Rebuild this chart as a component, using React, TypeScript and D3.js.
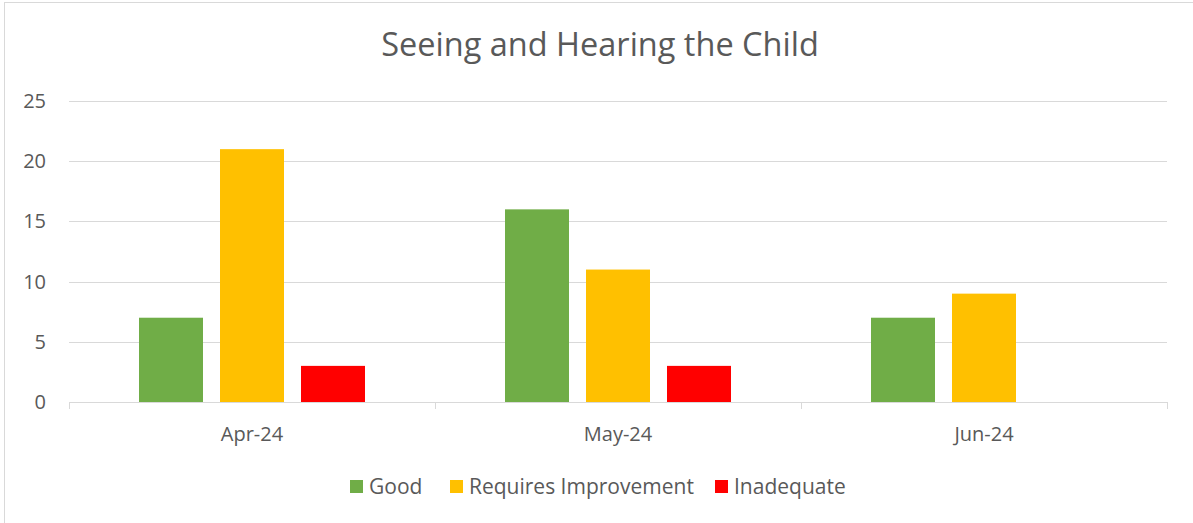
import React, { useRef, useEffect } from "react";
import * as d3 from "d3";

const categories = ["Apr-24", "May-24", "Jun-24"];
const seriesNames = ["Good", "Requires Improvement", "Inadequate"];
const seriesColors = ["#70ad47", "#ffc000", "#ff0000"];
const good = [7, 16, 7];
const requiresImprovement = [21, 11, 9];
const inadequate = [3, 3, 0];
const yTicks = [0, 5, 10, 15, 20, 25];

const W = 1193;
const H = 523;
const FONT = "'Open Sans', 'Noto Sans', sans-serif";

const App = () => {
  const svgRef = useRef<SVGSVGElement>(null);

  useEffect(() => {
    document.body.style.margin = "0";
    const svg = d3.select(svgRef.current);
    svg.selectAll("*").remove();

    const values = [good, requiresImprovement, inadequate];
    const left = 69;
    const right = 1167;
    const top = 101;
    const bottom = 402;

    // chart border
    svg
      .append("rect")
      .attr("x", 4.5)
      .attr("y", 2.5)
      .attr("width", W)
      .attr("height", H)
      .attr("fill", "#fff")
      .attr("stroke", "#d9d9d9");

    const x0 = d3.scaleBand().domain(categories).range([left, right]).padding(0);
    const y = d3.scaleLinear().domain([0, 25]).range([bottom, top]);

    const barW = 64;
    const gap = 17;
    const groupW = barW * 3 + gap * 2;
    const x1 = d3
      .scaleBand()
      .domain(seriesNames)
      .range([0, groupW])
      .paddingInner(gap / (barW + gap))
      .paddingOuter(0);

    // gridlines
    svg
      .append("g")
      .selectAll("line")
      .data(yTicks.filter((t) => t > 0))
      .enter()
      .append("line")
      .attr("x1", left)
      .attr("x2", right)
      .attr("y1", (d) => Math.round(y(d)) + 0.5)
      .attr("y2", (d) => Math.round(y(d)) + 0.5)
      .attr("stroke", "#d9d9d9")
      .attr("stroke-width", 1);

    // y labels
    svg
      .append("g")
      .selectAll("text")
      .data(yTicks)
      .enter()
      .append("text")
      .attr("x", 46)
      .attr("y", (d) => y(d))
      .attr("dy", "0.35em")
      .attr("text-anchor", "end")
      .attr("fill", "#595959")
      .style("font", `20px ${FONT}`)
      .text((d) => d);

    // bars
    seriesNames.forEach((s, si) => {
      svg
        .append("g")
        .selectAll("rect")
        .data(categories)
        .enter()
        .append("rect")
        .attr("x", (c) => x0(c)! + (x0.bandwidth() - groupW) / 2 + x1(s)!)
        .attr("y", (c, i) => y(values[si][i]))
        .attr("width", x1.bandwidth())
        .attr("height", (c, i) => bottom - y(values[si][i]))
        .attr("fill", seriesColors[si]);
    });

    // x axis line and ticks
    svg
      .append("line")
      .attr("x1", left)
      .attr("x2", right)
      .attr("y1", bottom + 0.5)
      .attr("y2", bottom + 0.5)
      .attr("stroke", "#d9d9d9");

    const boundaries = categories.map((c) => x0(c)!).concat([right]);
    svg
      .append("g")
      .selectAll("line")
      .data(boundaries)
      .enter()
      .append("line")
      .attr("x1", (d) => Math.round(d) + 0.5)
      .attr("x2", (d) => Math.round(d) + 0.5)
      .attr("y1", bottom)
      .attr("y2", bottom + 7)
      .attr("stroke", "#d9d9d9");

    svg
      .append("g")
      .selectAll("text")
      .data(categories)
      .enter()
      .append("text")
      .attr("x", (c) => x0(c)! + x0.bandwidth() / 2)
      .attr("y", 441)
      .attr("text-anchor", "middle")
      .attr("fill", "#595959")
      .style("font", `20px ${FONT}`)
      .text((d) => d);

    // title
    svg
      .append("text")
      .attr("x", 600)
      .attr("y", 56)
      .attr("text-anchor", "middle")
      .attr("fill", "#595959")
      .style("font", `32.5px ${FONT}`)
      .text("Seeing and Hearing the Child");

    // legend
    const legendX = [350, 450, 715];
    const legend = svg
      .append("g")
      .selectAll("g")
      .data(seriesNames)
      .enter()
      .append("g")
      .attr("transform", (d, i) => `translate(${legendX[i]}, 480)`);
    legend
      .append("rect")
      .attr("width", 13)
      .attr("height", 13)
      .attr("fill", (d, i) => seriesColors[i]);
    legend
      .append("text")
      .attr("x", 19)
      .attr("y", 14)
      .attr("fill", "#595959")
      .style("font", `21px ${FONT}`)
      .text((d) => d);
  }, []);

  return <svg ref={svgRef} width={W} height={H} style={{ display: "block" }}></svg>;
};

export default App;
